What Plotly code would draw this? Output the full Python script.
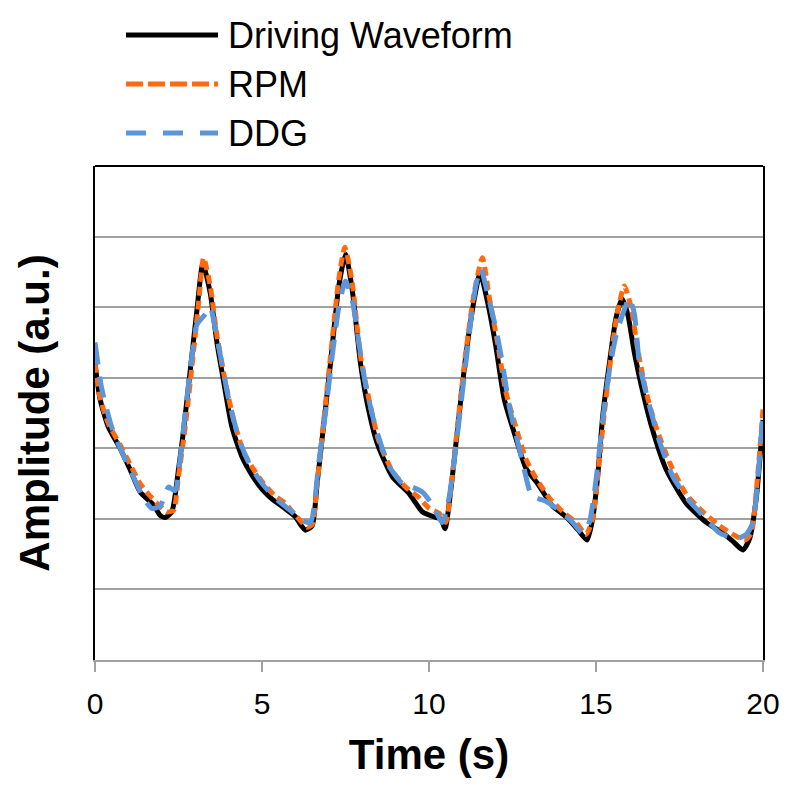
import plotly.graph_objects as go

# ---- data ----
t_drive = [0, 0.15, 0.4, 0.75, 1.05, 1.35, 1.75, 1.95, 2.1, 2.3, 2.5, 2.65, 2.85, 3.05, 3.23, 3.45,
           3.65, 3.85, 4.1, 4.4, 4.7, 5.0, 5.3, 5.65, 6.0, 6.15, 6.3, 6.5, 6.65, 6.85, 7.05, 7.3,
           7.5, 7.7, 7.95, 8.15, 8.45, 8.9, 9.4, 9.8, 10.2, 10.35, 10.48, 10.65, 10.85, 11.1, 11.35,
           11.53, 11.75, 12.0, 12.25, 12.55, 12.9, 13.25, 13.7, 14.1, 14.45, 14.73, 14.9, 15.05,
           15.2, 15.4, 15.6, 15.78, 15.95, 16.15, 16.4, 16.7, 17.1, 17.7, 18.3, 18.8, 19.1, 19.4,
           19.6, 19.8, 20.0]
y_drive = [4.2, 3.7, 3.3, 3.0, 2.7, 2.38, 2.2, 2.05, 2.02, 2.1, 2.7, 3.25, 4.1, 4.95, 5.62, 5.2,
           4.5, 3.95, 3.3, 2.88, 2.62, 2.42, 2.28, 2.16, 2.03, 1.92, 1.84, 1.9, 2.5, 3.35, 4.2, 5.3,
           5.75, 5.25, 4.2, 3.64, 3.07, 2.6, 2.36, 2.1, 2.02, 2.0, 1.86, 2.4, 3.25, 4.3, 5.1,
           5.48, 5.08, 4.45, 3.7, 3.22, 2.72, 2.5, 2.18, 2.03, 1.85, 1.7, 2.0, 2.6,
           3.45, 4.2, 4.85, 5.12, 4.9, 4.35, 3.8, 3.25, 2.7, 2.22, 1.95, 1.8, 1.68, 1.56,
           1.72, 2.3, 3.4]

t_rpm = [0, 0.15, 0.4, 0.75, 1.0, 1.35, 1.6, 1.9, 2.15, 2.35, 2.5, 2.7, 2.9, 3.1, 3.25, 3.45,
         3.65, 3.9, 4.15, 4.45, 4.75, 5.05, 5.4, 5.7, 6.0, 6.2, 6.35, 6.5, 6.65, 6.85, 7.05, 7.3,
         7.48, 7.7, 7.95, 8.2, 8.5, 8.9, 9.3, 9.7, 10.0, 10.3, 10.5, 10.65, 10.85, 11.1, 11.35,
         11.6, 11.8, 12.05, 12.3, 12.6, 12.9, 13.2, 13.6, 14.0, 14.4, 14.7, 14.9, 15.05, 15.25,
         15.45, 15.65, 15.85, 16.05, 16.25, 16.5, 16.8, 17.2, 17.7, 18.2, 18.7, 19.1, 19.45,
         19.65, 19.8, 20.0]
y_rpm = [4.2, 3.72, 3.35, 3.05, 2.82, 2.5, 2.35, 2.2, 2.1, 2.12, 2.6, 3.3, 4.15, 5.05, 5.7, 5.3,
         4.6, 3.95, 3.4, 2.95, 2.7, 2.5, 2.32, 2.22, 2.05, 1.95, 1.88, 1.92, 2.5, 3.4, 4.3, 5.4,
         5.85, 5.35, 4.3, 3.7, 3.1, 2.68, 2.45, 2.3, 2.15, 2.08, 1.95, 2.4, 3.3, 4.35, 5.2,
         5.7, 5.15, 4.5, 3.8, 3.3, 2.85, 2.58, 2.3, 2.1, 1.95, 1.78, 2.0, 2.6, 3.5,
         4.3, 4.95, 5.3, 5.0, 4.4, 3.8, 3.3, 2.8, 2.35, 2.1, 1.9, 1.78, 1.7,
         1.8, 2.4, 3.55]

t_ddg = [0, 0.2, 0.5, 0.8, 1.1, 1.44, 1.7, 1.95, 2.2, 2.4, 2.55, 2.7, 2.9, 3.05, 3.3, 3.45,
         3.6, 3.8, 4.0, 4.3, 4.6, 5.0, 5.5, 5.9, 6.2, 6.45, 6.7, 6.9, 7.1, 7.3, 7.5, 7.7, 7.9,
         8.1, 8.4, 8.8, 9.2, 9.5, 9.8, 10.1, 10.4, 10.6, 10.8, 11.0, 11.2, 11.4, 11.55, 11.75,
         12.0, 12.2, 12.4, 12.6, 12.85, 13.05, 13.2, 13.5, 13.9, 14.3, 14.6, 14.8, 15.0, 15.2,
         15.4, 15.6, 15.8, 16.0, 16.15, 16.3, 16.6, 16.9, 17.3, 17.8, 18.3, 18.7, 19.2, 19.5,
         19.7, 19.85, 20.0]
y_ddg = [4.5, 3.85, 3.3, 2.95, 2.65, 2.3, 2.15, 2.18, 2.45, 2.4, 2.85, 3.5, 4.3, 4.75, 4.9, 5.0,
         4.7, 4.2, 3.7, 3.15, 2.8, 2.5, 2.25, 2.1, 1.98, 1.95, 2.8, 3.5, 4.3, 5.0, 5.37, 5.1, 4.5,
         3.9, 3.3, 2.75, 2.5, 2.45, 2.38, 2.2, 1.95, 2.3, 3.0, 3.8, 4.6, 5.3, 5.55, 5.2,
         4.7, 4.2, 3.6, 3.2, 2.7, 2.35, 2.3, 2.25, 2.12, 1.95, 1.8, 1.95, 2.55, 3.4,
         4.1, 4.6, 4.9, 5.13, 4.9, 4.2, 3.6, 3.1, 2.6, 2.25, 2.0, 1.8, 1.72, 1.78,
         1.95, 2.6, 3.5]

x_ticks = [0, 5, 10, 15, 20]
series_names = ["Driving Waveform", "RPM", "DDG"]

FONT = "Arial, Liberation Sans, sans-serif"
ORANGE = "#FF6A0E"
BLUE = "#5B96DA"

fig = go.Figure()
fig.add_trace(go.Scatter(x=t_drive, y=y_drive, mode="lines", name=series_names[0],
                         line=dict(color="black", width=5, shape="spline", smoothing=0.6),
                         showlegend=False))
fig.add_trace(go.Scatter(x=t_rpm, y=y_rpm, mode="lines", name=series_names[1],
                         line=dict(color=ORANGE, width=5, dash="9px,5px", shape="spline", smoothing=0.6),
                         showlegend=False))
fig.add_trace(go.Scatter(x=t_ddg, y=y_ddg, mode="lines", name=series_names[2],
                         line=dict(color=BLUE, width=5, dash="22px,12px", shape="spline", smoothing=0.6),
                         showlegend=False))

# page offset (browser body margin) compensation
OFF = 8
W, H = 800, 797
# target screen positions of the plot area
SL, SR, ST, SB = 95, 763, 166, 660
L = SL - OFF
T = ST - OFF
R = W - (SR - OFF)
B = H - (SB - OFF)
pw, ph = W - L - R, H - T - B

def px2x(px):
    return (px - SL) / (SR - SL)

def py2y(py):
    return (SB - py) / (SB - ST)

# custom legend (above plot, top-left)
legend_rows = [(35, "black", "solid", 5), (84, ORANGE, "17px,5px", 5), (133, BLUE, "20px,17px", 5)]
for (py, col, dash, w), name in zip(legend_rows, series_names):
    fig.add_shape(type="line", xref="paper", yref="paper",
                  x0=px2x(126), x1=px2x(218), y0=py2y(py), y1=py2y(py),
                  line=dict(color=col, width=w, dash=dash))
    fig.add_annotation(xref="paper", yref="paper", x=px2x(226), y=py2y(py), text=name,
                       showarrow=False, xanchor="left", yanchor="middle",
                       font=dict(family=FONT, size=36, color="black"))

# top border
fig.add_shape(type="line", xref="paper", yref="paper", x0=0, x1=1, y0=1, y1=1,
              line=dict(color="black", width=2))

fig.update_layout(
    width=W, height=H,
    margin=dict(l=L, r=R, t=T, b=B, autoexpand=False),
    paper_bgcolor="white", plot_bgcolor="white",
    font=dict(family=FONT, color="black"),
    showlegend=False,
)
fig.update_xaxes(
    range=[0, 20], tickvals=x_ticks, ticktext=[str(v) for v in x_ticks],
    showgrid=False, zeroline=False, automargin=False,
    showline=True, linecolor="#A0A0A0", linewidth=2,
    ticks="outside", ticklen=10, tickwidth=2, tickcolor="#A0A0A0",
    ticklabelstandoff=6,
    tickfont=dict(family=FONT, size=30, color="black"),
    title=dict(text="<b>Time (s)</b>", font=dict(family=FONT, size=42, color="black"), standoff=21),
)
fig.update_yaxes(
    range=[0, 7], dtick=1, showticklabels=False, automargin=False,
    showgrid=True, gridcolor="#A0A0A0", gridwidth=2, zeroline=False,
    showline=True, linecolor="black", linewidth=2, mirror=True,
    title=dict(text="<b>Amplitude (a.u.)</b>", font=dict(family=FONT, size=42, color="black"), standoff=30),
)

fig.write_html("out.html")
